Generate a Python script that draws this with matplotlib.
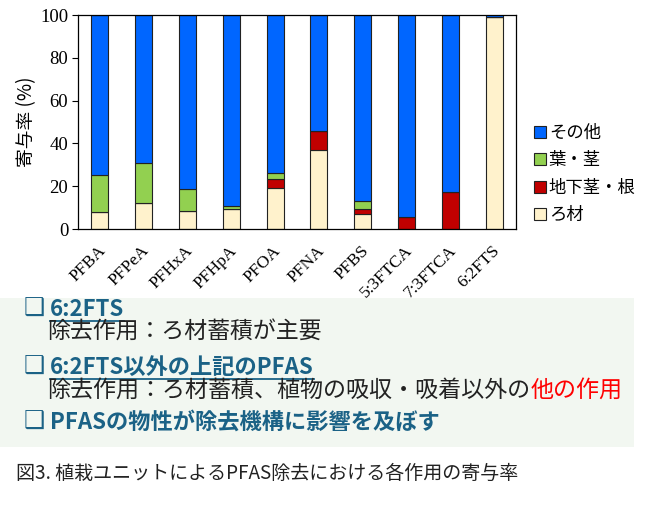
import numpy as np
import matplotlib
matplotlib.use("Agg")
import matplotlib.pyplot as plt
import matplotlib.transforms as mtrans
from matplotlib.patches import Patch, Rectangle
from matplotlib.lines import Line2D

categories = ["PFBA", "PFPeA", "PFHxA", "PFHpA", "PFOA", "PFNA", "PFBS",
              "5:3FTCA", "7:3FTCA", "6:2FTS"]
filter_media = [7.8, 12.1, 8.5, 9.5, 19.3, 37.0, 7.0, 0.0, 0.0, 99.1]
rhizome_root = [0.0, 0.0, 0.0, 0.0, 4.0, 8.8, 2.3, 5.6, 17.2, 0.0]
leaf_stem = [17.4, 18.8, 10.0, 1.2, 2.8, 0.0, 3.7, 0.0, 0.0, 0.0]
others = [100 - a - b - c for a, b, c in zip(filter_media, rhizome_root, leaf_stem)]

series = [("ろ材", filter_media, "#FFF2CC"),
          ("地下茎・根", rhizome_root, "#C00000"),
          ("葉・茎", leaf_stem, "#92D050"),
          ("その他", others, "#0066FF")]

JP = ["Noto Sans CJK JP", "DejaVu Sans"]
SERIF = "Liberation Serif"

fig = plt.figure(figsize=(6.5, 5.08), dpi=100)
W, H = 650, 508

def fx(px):
    return px / W

def fy(py):
    return 1 - py / H

# summary box (drawn first, behind everything)
fig.patches.append(Rectangle((0, fy(447)), fx(634), fy(298) - fy(447),
                             transform=fig.transFigure, facecolor="#F2F7F1",
                             edgecolor="none", zorder=-5))

ax = fig.add_axes([fx(78), fy(229), fx(516) - fx(78), fy(15) - fy(229)])

x = np.arange(len(categories))
bottom = np.zeros(len(categories))
for name, vals, col in series:
    vals = np.array(vals)
    ax.bar(x, vals, width=0.39, bottom=bottom, color=col,
           edgecolor="#222222", linewidth=0.8)
    bottom += vals

ax.set_xlim(-0.5, len(categories) - 0.5)
ax.set_ylim(0, 100)
ax.set_yticks(np.arange(0, 101, 20))
for lab in ax.get_yticklabels():
    lab.set_fontfamily(SERIF)
    lab.set_fontsize(13.5)
ax.tick_params(axis="y", direction="out", length=4, width=0.8, pad=3)
ax.tick_params(axis="x", length=0, pad=10)
ax.set_xticks(x)
ax.set_xticklabels(categories, rotation=45, ha="right", fontfamily=SERIF,
                   fontsize=12.5)
offset = mtrans.ScaledTranslation(9 / 100, 0, fig.dpi_scale_trans)
for lab in ax.get_xticklabels():
    lab.set_transform(lab.get_transform() + offset)
for s in ax.spines.values():
    s.set_linewidth(0.9)
ax.set_ylabel("寄与率 (%)", family=JP, fontsize=13.5, labelpad=2)

handles = [Patch(facecolor=col, edgecolor="#222222", linewidth=0.8, label=name)
           for name, vals, col in series[::-1]]
fig.legend(handles=handles, loc="center left",
           bbox_to_anchor=(fx(534), fy(174)), frameon=False,
           prop={"family": JP, "size": 12.5}, handlelength=0.7,
           handleheight=0.7, handletextpad=0.15, labelspacing=0.55,
           borderpad=0, borderaxespad=0)

teal = "#1B6286"
for yy in (309, 367, 422):
    fig.text(fx(24), fy(yy), "❑", family=["DejaVu Sans"], fontsize=17,
             fontweight="bold", color=teal, va="center")
t1 = fig.text(fx(50), fy(309), "6:2FTS", family=JP, fontsize=16,
              fontweight="bold", color=teal, va="center")
fig.text(fx(47), fy(332), "除去作用：ろ材蓄積が主要", family=JP, fontsize=16.5,
         color="#222222", va="center")
t2 = fig.text(fx(50), fy(367), "6:2FTS以外の上記のPFAS", family=JP, fontsize=16,
              fontweight="bold", color=teal, va="center")
t3 = fig.text(fx(47), fy(390), "除去作用：ろ材蓄積、植物の吸収・吸着以外の",
              family=JP, fontsize=16.6, color="#222222", va="center")
fig.text(fx(50), fy(422), "PFASの物性が除去機構に影響を及ぼす", family=JP,
         fontsize=16, fontweight="bold", color=teal, va="center")

fig.text(fx(16), fy(473), "図3. 植栽ユニットによるPFAS除去における各作用の寄与率",
         family=JP, fontsize=13.7, color="#222222", va="center")

fig.canvas.draw()
r = fig.canvas.get_renderer()
bb = t3.get_window_extent(r)
fig.text(bb.x1 / W, fy(390), "他の作用", family=JP, fontsize=16.6,
         color="#FF0000", va="center")
for t in (t1, t2):
    b = t.get_window_extent(r)
    yline = b.y0
    fig.add_artist(Line2D([b.x0 / W, b.x1 / W], [yline / H, yline / H],
                          transform=fig.transFigure, color=teal, linewidth=1.3))

fig.savefig("out.png", dpi=100)
